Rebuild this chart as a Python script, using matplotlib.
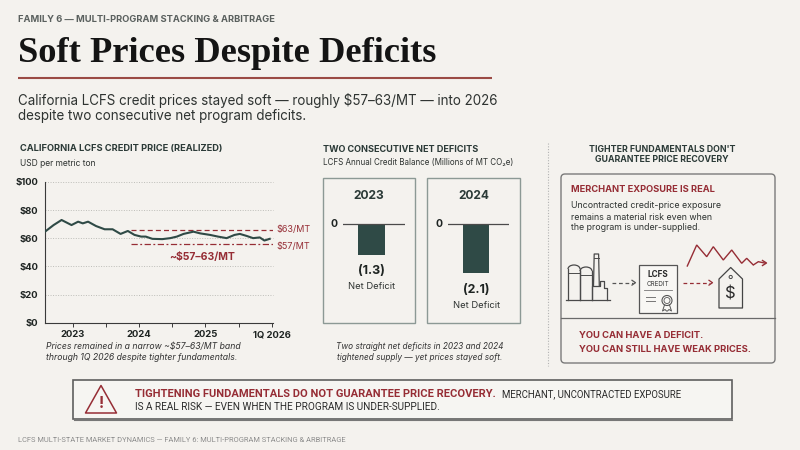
import matplotlib
matplotlib.use("Agg")
import matplotlib.pyplot as plt
from matplotlib.patches import Rectangle, FancyBboxPatch, Polygon, Circle, Arc

# ---------------- data ----------------
price_years = [2022.58, 2022.71, 2022.83, 2022.98, 2023.08, 2023.15, 2023.23, 2023.35,
               2023.48, 2023.60, 2023.72, 2023.83, 2023.93, 2024.03, 2024.10, 2024.20,
               2024.35, 2024.47, 2024.57, 2024.67, 2024.82, 2024.92, 2025.07, 2025.19,
               2025.32, 2025.44, 2025.52, 2025.62, 2025.72, 2025.82, 2025.89, 2025.97]
price_usd = [64.7, 69.4, 73.0, 69.4, 71.8, 70.6, 71.8, 68.7,
             66.4, 66.4, 63.1, 65.2, 62.4, 61.2, 61.2, 59.6,
             59.4, 60.1, 61.2, 63.1, 64.7, 63.5, 62.4, 61.2,
             60.1, 62.4, 63.1, 61.7, 60.1, 60.6, 58.4, 59.6]
band_levels = [66, 56]
band_labels = ["$63/MT", "$57/MT"]
band_start = 2023.88
y_ticks = [0, 20, 40, 60, 80, 100]
y_tick_labels = ["$0", "$20", "$40", "$60", "$80", "$100"]
x_ticks = [2023, 2024, 2025, 2026]
x_tick_labels = ["2023", "2024", "2025", "1Q 2026"]
x_minor_ticks = [2023.5, 2024.5, 2025.5]

deficit_years = ["2023", "2024"]
deficit_values = [-1.3, -2.1]
deficit_labels = ["(1.3)", "(2.1)"]

# ---------------- style ----------------
BG = "#f4f2ee"
TEAL = "#2f4a46"
RED = "#962d35"
DARK = "#1e2422"
SANS = ["Inter", "DejaVu Sans"]
COND = ["Roboto", "DejaVu Sans"]
SERIF = ["Liberation Serif", "DejaVu Serif"]

fig = plt.figure(figsize=(8, 4.5), dpi=100, facecolor=BG)
ax0 = fig.add_axes([0, 0, 1, 1], zorder=0)
ax0.set_xlim(0, 800)
ax0.set_ylim(450, 0)
ax0.axis("off")
R = fig.canvas.get_renderer()


def px_rect(x0, y0, x1, y1):
    return [x0 / 800, 1 - y1 / 450, (x1 - x0) / 800, (y1 - y0) / 450]


def fit(x, y, s, w, ax=None, size=10, ha="left", va="center", family=SANS, **kw):
    ax = ax or ax0
    t = ax.text(x, y, s, fontsize=size, ha=ha, va=va, family=family, **kw)
    bb = t.get_window_extent(R)
    fs = size * w / bb.width
    t.set_fontsize(fs)
    return fs


# ---------------- header ----------------
fit(18, 20, "FAMILY 6 — MULTI-PROGRAM STACKING & ARBITRAGE", 255, weight="bold", color="#5a605e")
fit(18, 62, "Soft Prices Despite Deficits", 419, va="baseline", family=SERIF,
    weight="bold", color="#141414")
ax0.plot([18, 492], [78, 78], color="#9b4b45", lw=1.5, solid_capstyle="butt")
fs = fit(18, 100, "California LCFS credit prices stayed soft — roughly $57–63/MT — into 2026",
         484, color="#2e3331")
ax0.text(18, 116, "despite two consecutive net program deficits.", fontsize=fs,
         family=SANS, color="#2e3331", va="center")

# ---------------- left panel: price line ----------------
fit(20, 149, "CALIFORNIA LCFS CREDIT PRICE (REALIZED)", 202, weight="bold", color="#2b3a37")
fit(20, 163, "USD per metric ton", 77, color="#2e3331")

axL = fig.add_axes(px_rect(45, 182, 273, 322.7), zorder=2)
axL.set_facecolor("none")
axL.set_xlim(2022.58, 2026.02)
axL.set_ylim(0, 100)
for v in y_ticks[1:]:
    axL.axhline(v, color="#bdbdb8", lw=0.7, ls=(0, (1, 1.6)), zorder=0, clip_on=False)
axL.plot(price_years, price_usd, color=TEAL, lw=1.5, solid_joinstyle="round", zorder=3)
axL.hlines(band_levels[0], band_start, 2026.02, colors=RED, lw=0.9, linestyles=[(0, (4, 2.5))], zorder=2)
axL.hlines(band_levels[1], band_start, 2026.02, colors=RED, lw=0.9, linestyles=[(0, (5, 2, 1.5, 2))], zorder=2)
axL.text(1.013, band_levels[0], band_labels[0], transform=axL.get_yaxis_transform(),
         color=RED, fontsize=6.5, family=SANS, va="center")
axL.text(1.013, band_levels[1] - 2, band_labels[1], transform=axL.get_yaxis_transform(),
         color=RED, fontsize=6.5, family=SANS, va="center")
fit(2024.95, 47, "~$57–63/MT", 66, ax=axL, ha="center", weight="bold", color=RED)
for sp in ["top", "right"]:
    axL.spines[sp].set_visible(False)
for sp in ["left", "bottom"]:
    axL.spines[sp].set_color("#3a3a3a")
    axL.spines[sp].set_linewidth(0.8)
axL.set_yticks(y_ticks, y_tick_labels)
axL.set_xticks(x_ticks, x_tick_labels)
axL.set_xticks(x_minor_ticks, minor=True)
axL.tick_params(axis="y", length=0, pad=5, labelsize=6.8, labelcolor=DARK)
axL.tick_params(axis="x", which="both", length=3, width=0.7, color="#3a3a3a", pad=2.5,
                labelsize=6.8, labelcolor=DARK)
for lab in axL.get_xticklabels() + axL.get_yticklabels():
    lab.set_fontweight("bold")
    lab.set_family(SANS)

fs = fit(46, 347, "Prices remained in a narrow ~$57–63/MT band", 195, style="italic", color="#333")
ax0.text(46, 357.5, "through 1Q 2026 despite tighter fundamentals.", fontsize=fs,
         family=SANS, style="italic", color="#333", va="center")

# ---------------- middle panel: deficits ----------------
fit(322.7, 149, "TWO CONSECUTIVE NET DEFICITS", 155, weight="bold", color="#2b3a37")
fit(322.7, 162, "LCFS Annual Credit Balance (Millions of MT CO₂e)", 191, color="#2e3331")

box_x = [322.7, 427.3]
K = 23.5  # px per unit
for i in range(2):
    bx = box_x[i]
    ax0.add_patch(Rectangle((bx, 178), 92.3, 145.3, fc="none", ec="#8c9995", lw=1.0))
    fit(bx + 46.2, 196, deficit_years[i], 31, ha="center", weight="bold", color="#2b3a37")
    axB = fig.add_axes(px_rect(bx + 20.6, 200, bx + 82.1, 320), zorder=2)
    axB.set_facecolor("none")
    axB.set_xlim(0, 1)
    axB.set_ylim(-(320 - 224) / K, (224 - 200) / K)
    axB.axis("off")
    axB.bar(0.46, deficit_values[i], width=0.43, color=TEAL, zorder=2)
    axB.axhline(0, color="#4a4a4a", lw=0.9, zorder=3)
    axB.text(-0.15, 0, "0", ha="center", va="center", fontsize=7.5, weight="bold",
             family=SANS, color=DARK)
    axB.text(0.46, deficit_values[i] - 0.7, deficit_labels[i], ha="center", va="center",
             fontsize=9, weight="bold", family=SANS, color=DARK)
    fit(0.46, deficit_values[i] - 1.38, "Net Deficit", 47, ax=axB, ha="center", color="#2e3331")

fs = fit(420, 346.7, "Two straight net deficits in 2023 and 2024", 167, ha="center",
         style="italic", color="#333")
ax0.text(420, 357, "tightened supply — yet prices stayed soft.", fontsize=fs, family=SANS,
         style="italic", color="#333", va="center", ha="center")

# separator
ax0.plot([548, 548], [143, 366], color="#b3b3b3", lw=0.8, ls=(0, (1, 1.5)))

# ---------------- right panel ----------------
fs = fit(662, 149, "TIGHTER FUNDAMENTALS DON'T", 145, ha="center", weight="bold", color="#2b3a37")
ax0.text(662, 159.5, "GUARANTEE PRICE RECOVERY", fontsize=fs, family=SANS, weight="bold",
         color="#2b3a37", ha="center", va="center")
ax0.add_patch(FancyBboxPatch((561, 174), 214, 189, boxstyle="round,pad=0,rounding_size=4",
                             fc="none", ec="#7a7a7a", lw=1.0))
fit(571, 190, "MERCHANT EXPOSURE IS REAL", 143, weight="bold", color=RED)
fs = fit(571, 206, "Uncontracted credit-price exposure", 151, color="#2e3331")
ax0.text(571, 217, "remains a material risk even when", fontsize=fs, family=SANS,
         color="#2e3331", va="center")
ax0.text(571, 228, "the program is under-supplied.", fontsize=fs, family=SANS,
         color="#2e3331", va="center")

ic = "#4a4a4a"
# factory icon
for (x0, x1, top) in [(568, 580, 269), (580, 592, 271)]:
    ax0.plot([x0, x0], [top, 300], color=ic, lw=0.9)
    ax0.plot([x1, x1], [top, 300], color=ic, lw=0.9)
    ax0.add_patch(Arc(((x0 + x1) / 2, top), x1 - x0, 8, theta1=180, theta2=360, color=ic, lw=0.9))
    ax0.plot([x0, x1], [top + 4, top + 4], color=ic, lw=0.7)
ax0.plot([593.5, 594.2, 598.6, 599.3], [286, 254, 254, 286], color=ic, lw=0.9)
ax0.plot([594, 598.8], [257.5, 257.5], color=ic, lw=0.7)
ax0.plot([592, 592, 600, 600, 604, 604, 607, 607], [300, 286, 286, 281, 281, 288, 288, 300],
         color=ic, lw=0.9)
ax0.plot([566, 610], [300, 300], color=ic, lw=0.9)

# gray dashed arrow
ax0.plot([612, 633], [282.7, 282.7], color="#555", lw=0.9, ls=(0, (3, 2.2)))
ax0.plot([632, 635.5, 632], [280.3, 282.7, 285.1], color="#555", lw=0.9)

# certificate
ax0.add_patch(Rectangle((639.3, 265), 37.4, 48, fc="#f8f7f4", ec="#555", lw=0.9))
fit(658, 274.5, "LCFS", 21, ha="center", weight="bold", color="#2b2b2b")
fit(658, 284.5, "CREDIT", 23, ha="center", color="#3a3a3a")
ax0.plot([644, 672], [289.5, 289.5], color="#777", lw=0.6)
ax0.plot([646, 655], [297, 297], color="#777", lw=0.7)
ax0.plot([646, 655], [301, 301], color="#777", lw=0.7)
ax0.add_patch(Circle((667, 300.5), 5, fc="none", ec="#555", lw=0.8))
ax0.add_patch(Circle((667, 300.5), 3, fc="none", ec="#555", lw=0.6))
ax0.plot([664.5, 662.5, 665, 666.5], [305, 311, 309.5, 311], color="#555", lw=0.7)
ax0.plot([669.5, 671.5, 669, 667.5], [305, 311, 309.5, 311], color="#555", lw=0.7)

# red dashed arrow
ax0.plot([683, 710], [282.7, 282.7], color=RED, lw=0.9, ls=(0, (3, 2.2)))
ax0.plot([709, 712.5, 709], [280.3, 282.7, 285.1], color=RED, lw=0.9)

# price tag
ax0.add_patch(Polygon([(730.7, 267.5), (742.5, 279), (742.5, 308), (719, 308), (719, 279)],
                      closed=True, fc="none", ec="#444", lw=0.9, joinstyle="round"))
ax0.add_patch(Circle((730.7, 277), 1.6, fc="none", ec="#444", lw=0.7))
ax0.text(730.7, 294.5, "$", fontsize=12, family=SANS, color="#2b2b2b", ha="center", va="center")

# zigzag price line
zx = [687.3, 696.7, 706.7, 713.3, 723.3, 731.7, 741.7, 746.7, 753.3, 758.3, 764.5]
zy = [266, 245, 256.7, 246.7, 260, 250, 263.3, 258.3, 265, 261.7, 263]
ax0.plot(zx, zy, color=RED, lw=1.0, solid_joinstyle="miter")
ax0.plot([762.5, 766.5, 762.5], [260.5, 263, 265.5], color=RED, lw=1.0)

ax0.plot([561, 775], [318, 318], color="#6a6a6a", lw=0.9)
fs = fit(579, 349, "YOU CAN STILL HAVE WEAK PRICES.", 172, weight="bold", color=RED)
ax0.text(579, 335, "YOU CAN HAVE A DEFICIT.", fontsize=fs, family=SANS, weight="bold",
         color=RED, va="center")

# ---------------- bottom callout ----------------
ax0.add_patch(Rectangle((73.3, 380), 658.7, 39.3, fc="#f6f5f2", ec="#5f5f5f", lw=1.2))
ax0.plot([74, 732], [419.8, 419.8], color="#777", lw=0.8)
ax0.add_patch(Polygon([(101, 385.5), (85.5, 413), (116.5, 413)], closed=True, fc="none",
                      ec=RED, lw=1.1, joinstyle="round"))
ax0.text(101, 403, "!", fontsize=11, weight="bold", color=RED, ha="center", va="center",
         family=SANS)
fit(135, 394, "TIGHTENING FUNDAMENTALS DO NOT GUARANTEE PRICE RECOVERY.", 360,
    weight="bold", color=RED, family=COND)
fit(502, 394, "MERCHANT, UNCONTRACTED EXPOSURE", 179, color="#2b2b2b", family=COND)
fit(135, 407, "IS A REAL RISK — EVEN WHEN THE PROGRAM IS UNDER-SUPPLIED.", 303,
    color="#2b2b2b", family=COND)

# footer
fit(18, 440, "LCFS MULTI-STATE MARKET DYNAMICS — FAMILY 6: MULTI-PROGRAM STACKING & ARBITRAGE",
    329, color="#8c8c8c", family=COND)

fig.savefig("out.png", dpi=100, facecolor=BG)
